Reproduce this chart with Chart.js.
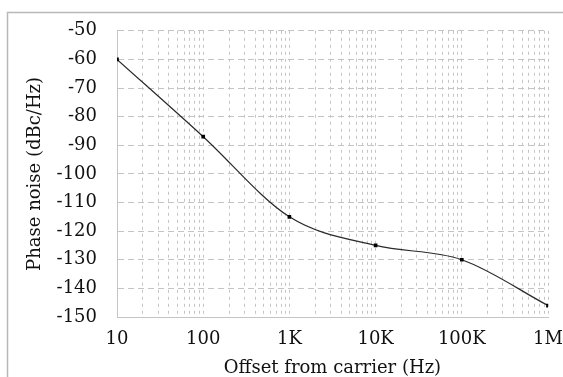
<!DOCTYPE html>
<html>
<head>
<meta charset="utf-8">
<script src="https://cdn.jsdelivr.net/npm/chart.js@4"></script>
<style>
  html, body { margin: 0; padding: 0; background: #fff; }
  #wrap { width: 563px; height: 377px; position: relative; }
</style>
</head>
<body>
<div id="wrap"><canvas id="pn"></canvas></div>
<script>
const offsets = [10, 100, 1000, 10000, 100000, 1000000];
const noise = [-60, -87, -115, -125, -130, -146];
const xTickLabels = ['10', '100', '1K', '10K', '100K', '1M'];
const yTicks = [-150, -140, -130, -120, -110, -100, -90, -80, -70, -60, -50];

const serif = 'DejaVu Serif';
const gridColor = '#c4c4c4';
const textColor = '#111';

// page frame of the scanned figure
const frame = {
    id: 'frame',
    beforeDraw(chart) {
        const c = chart.ctx;
        c.save();
        c.fillStyle = '#fff';
        c.fillRect(0, 0, chart.width, chart.height);
        c.strokeStyle = '#b8b8b8';
        c.lineWidth = 1.5;
        c.beginPath();
        c.moveTo(7.5, chart.height);
        c.lineTo(7.5, 12.5);
        c.lineTo(chart.width, 12.5);
        c.stroke();
        c.restore();
    }
};

new Chart(document.getElementById('pn'), {
    type: 'line',
    data: {
        datasets: [{
            data: offsets.map((x, i) => ({ x: x, y: noise[i] })),
            borderColor: '#2a2a2a',
            borderWidth: 1.2,
            pointStyle: 'rect',
            pointRadius: 2.6,
            pointBackgroundColor: '#000',
            pointBorderColor: '#000',
            pointBorderWidth: 0,
            cubicInterpolationMode: 'monotone',
            fill: false
        }]
    },
    options: {
        responsive: true,
        maintainAspectRatio: false,
        animation: false,
        layout: { padding: { top: 27, right: 0, left: 0, bottom: 0 } },
        plugins: { legend: { display: false }, tooltip: { enabled: false } },
        scales: {
            x: {
                type: 'logarithmic',
                min: 10,
                max: 1000000,
                afterBuildTicks(scale) {
                    const t = [];
                    offsets.forEach((d, i) => {
                        if (i === offsets.length - 1) { t.push({ value: d }); return; }
                        for (let k = 1; k < 10; k++) t.push({ value: d * k });
                    });
                    scale.ticks = t;
                },
                afterFit(scale) {
                    scale.height = 60;
                    scale.paddingRight = 15;
                },
                grid: { color: gridColor, lineWidth: 1, drawTicks: false },
                border: { display: true, color: gridColor, width: 1, dash: [3, 4] },
                ticks: {
                    autoSkip: false,
                    maxRotation: 0,
                    padding: 12,
                    color: textColor,
                    font: { family: serif, size: 18 },
                    callback(v) {
                        const i = offsets.indexOf(v);
                        return i >= 0 ? xTickLabels[i] : '';
                    }
                },
                title: {
                    display: true,
                    text: 'Offset from carrier (Hz)',
                    color: textColor,
                    font: { family: serif, size: 18, lineHeight: 1 },
                    padding: { top: 0, bottom: 0 }
                }
            },
            y: {
                min: -150,
                max: -50,
                afterBuildTicks(scale) {
                    scale.ticks = yTicks.map(v => ({ value: v }));
                },
                afterFit(scale) { scale.width = 117; },
                grid: { color: gridColor, lineWidth: 1, drawTicks: false },
                border: { display: true, color: gridColor, width: 1, dash: [6, 4] },
                ticks: {
                    padding: 20,
                    color: textColor,
                    font: { family: serif, size: 18 }
                },
                title: {
                    display: true,
                    text: 'Phase noise (dBc/Hz)',
                    color: textColor,
                    font: { family: serif, size: 18, lineHeight: 1.2 },
                    padding: { top: 25, bottom: 0 }
                }
            }
        }
    },
    plugins: [frame]
});
</script>
</body>
</html>
